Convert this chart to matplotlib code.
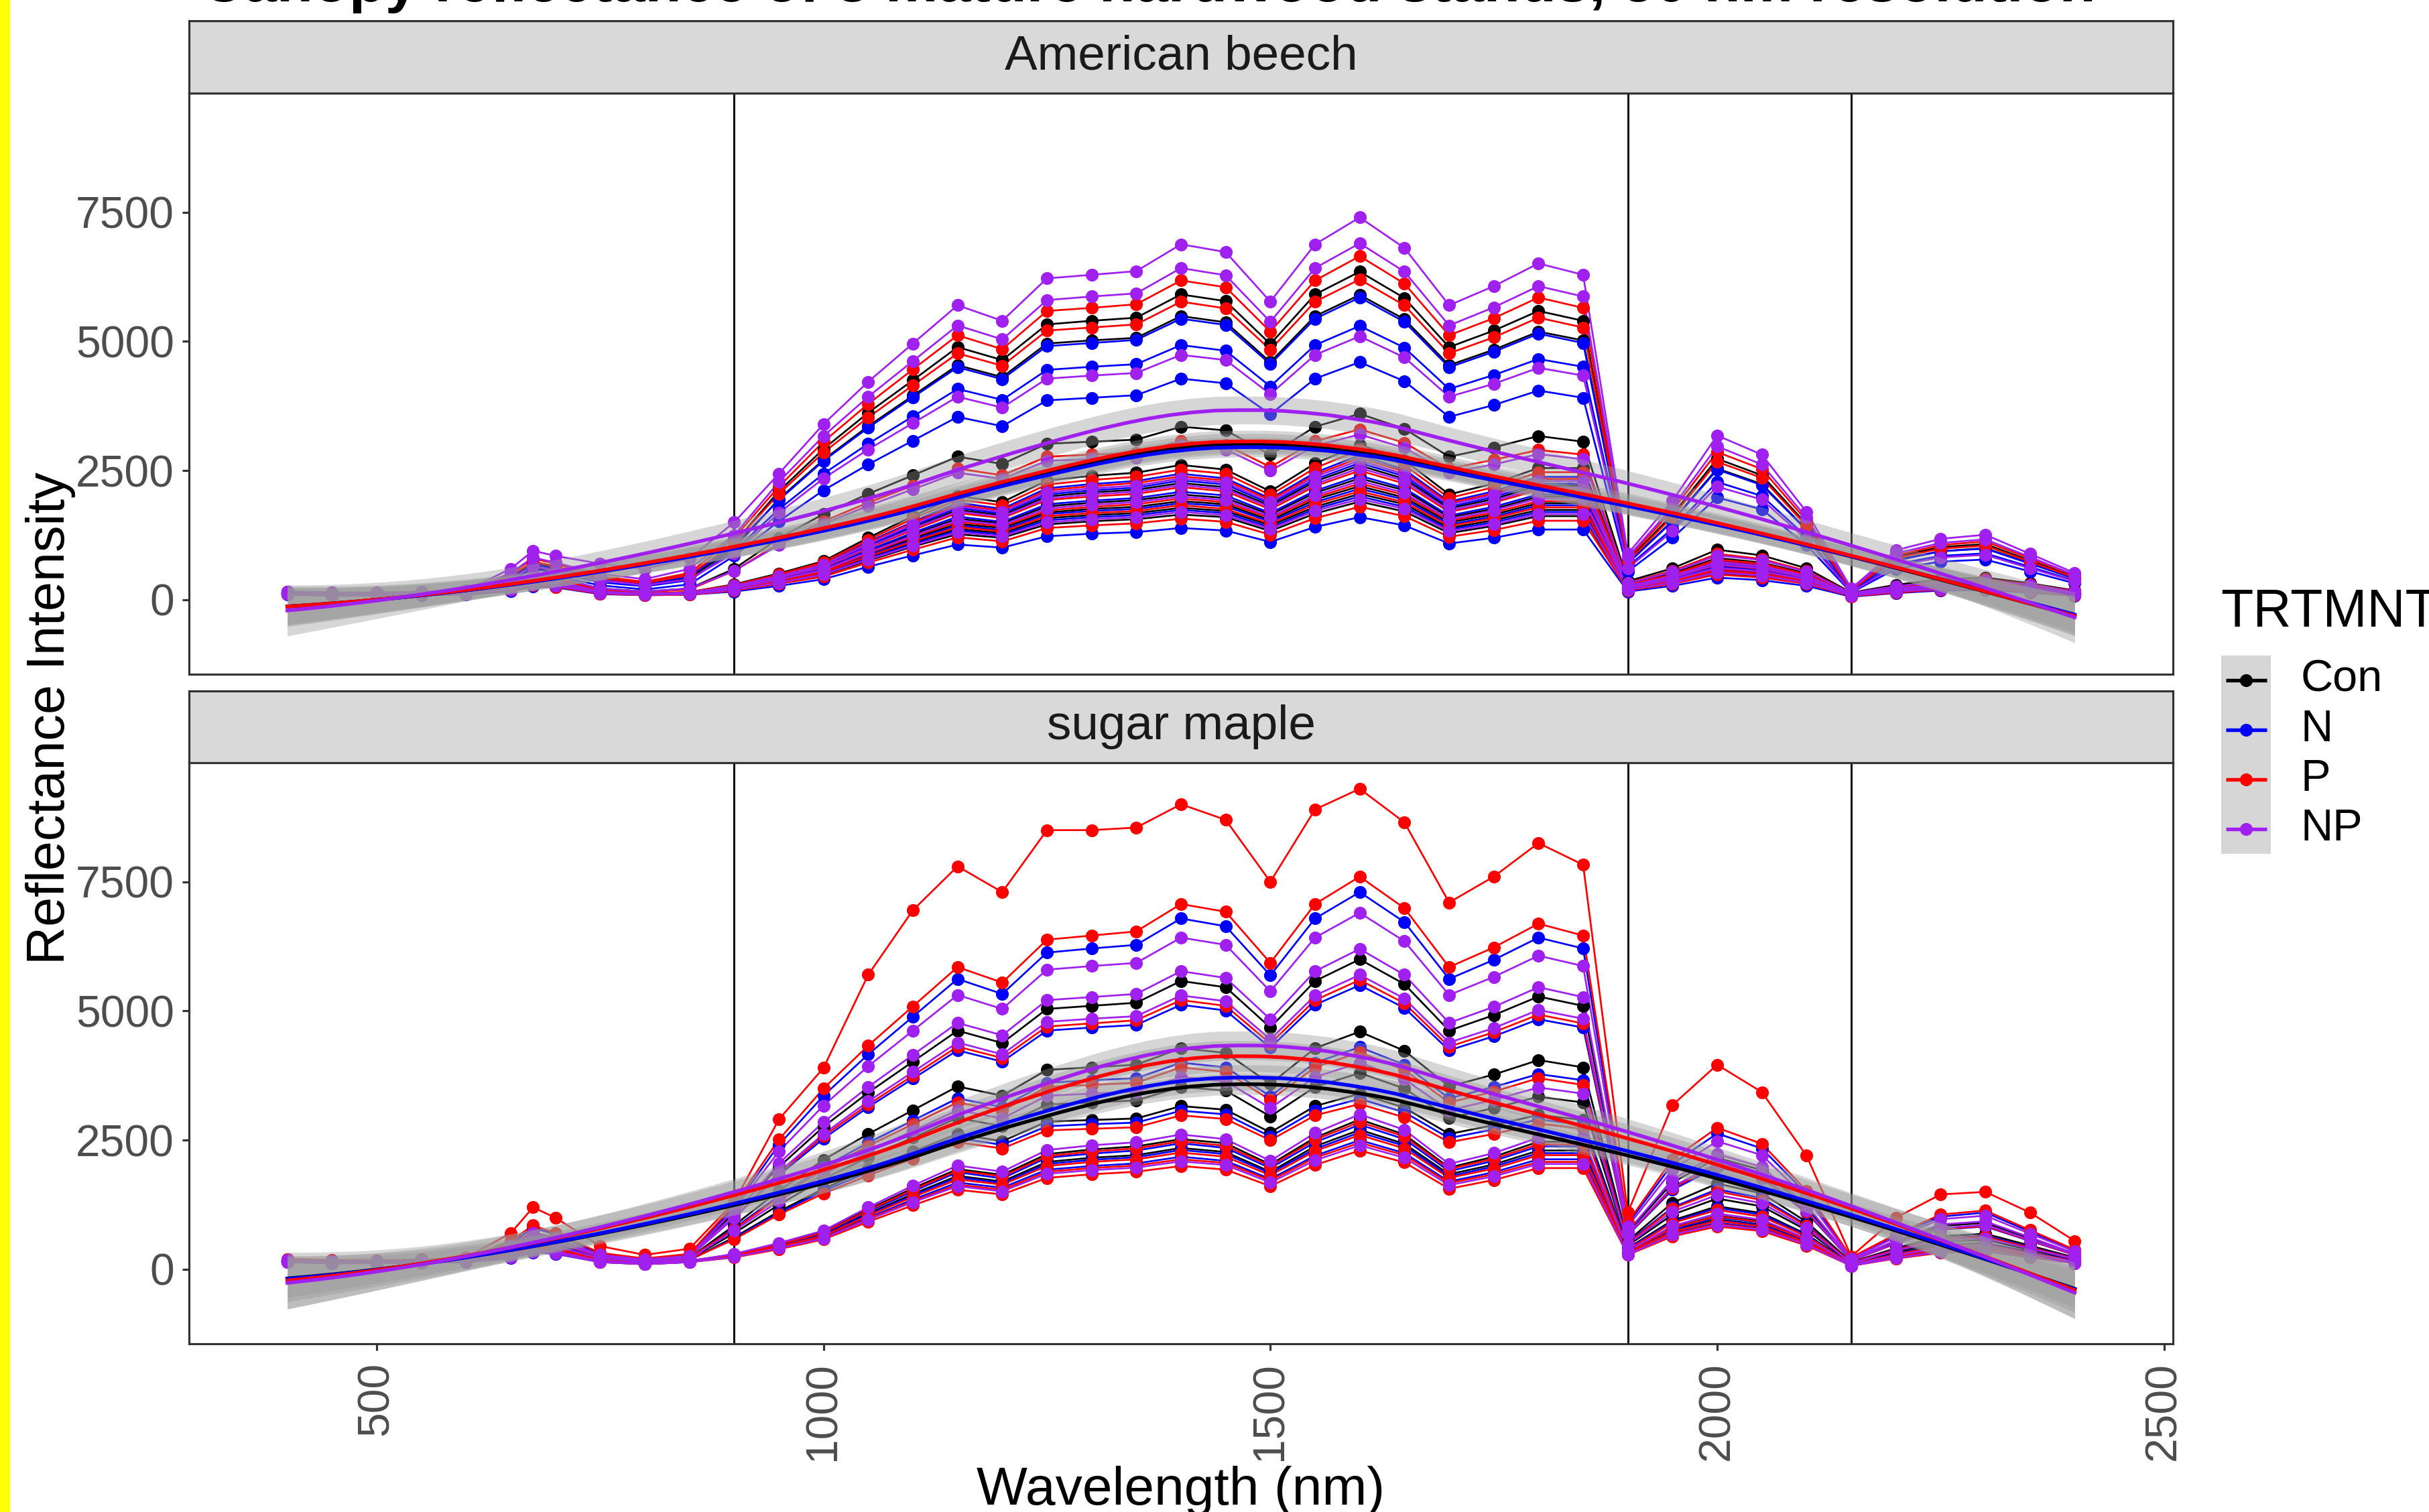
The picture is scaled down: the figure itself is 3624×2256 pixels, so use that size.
import numpy as np
import matplotlib
matplotlib.use('Agg')
import matplotlib.pyplot as plt
from matplotlib.patches import Rectangle

plt.rcParams['font.family'] = ['Liberation Sans', 'DejaVu Sans']

# ---------------- data ----------------
wavelength = [400, 450, 500, 550, 600, 650, 675, 700, 750, 800, 850,
              900, 950, 1000, 1050, 1100, 1150, 1200, 1250, 1300, 1350, 1400, 1450,
              1500, 1550, 1600, 1650, 1700, 1750, 1800, 1850,
              1900, 1950, 2000, 2050, 2100, 2150, 2200, 2250, 2300, 2350, 2400]

species = ['American beech', 'sugar maple']
treatments = ['Con', 'N', 'P', 'NP']
trt_colors = ['#000000', '#0000FF', '#FF0000', '#A020F0']
vline_wavelengths = [900, 1900, 2150]
y_ticks = [0, 2500, 5000, 7500]
x_ticks = [500, 1000, 1500, 2000, 2500]

beech_Con = [
    [150,130,130,140,170,450,700,620,420,330,480, 1100,2100,2920,3620,4250,4890,4640,5330,5400,5460,5910,5780,4950,5910,6350,5840,4890,5210,5590,5400, 760,1650,2730,2410,1460,190,830,1020,1080,760,440],
    [140,120,120,130,160,400,620,560,380,300,420, 1000,1950,2710,3360,3950,4540,4310,4960,5020,5070,5490,5370,4600,5490,5900,5430,4540,4840,5190,5020, 710,1530,2540,2240,1360,180,770,940,1000,710,410],
    [130,110,110,120,140,300,480,420,220,160,220, 600,1190,1660,2050,2410,2770,2630,3020,3060,3100,3350,3280,2810,3350,3600,3310,2770,2950,3170,3060, 360,610,970,860,610,140,290,400,430,320,180],
    [120,100,100,110,130,260,400,360,170,120,150, 300,510,750,1200,1620,2010,1890,2310,2400,2460,2610,2520,2100,2640,3000,2700,2040,2250,2550,2550, 300,510,810,720,510,120,240,330,360,270,150],
    [130,110,110,120,130,240,360,330,150,110,140, 260,440,650,1040,1400,1740,1640,2000,2080,2130,2260,2180,1820,2290,2600,2340,1770,1950,2210,2210, 260,440,700,620,440,100,210,290,310,230,130],
    [120,100,100,110,120,230,340,310,150,110,130, 235,400,590,940,1270,1570,1480,1810,1880,1930,2040,1970,1650,2070,2350,2120,1600,1760,2000,2000, 235,400,630,560,400,90,190,260,280,210,120],
    [110,90,90,100,120,210,320,290,140,100,120, 220,370,550,880,1190,1470,1390,1690,1760,1800,1910,1850,1540,1940,2200,1980,1500,1650,1870,1870, 220,370,590,530,370,90,180,240,260,200,110],
    [110,90,90,100,110,200,310,280,130,100,110, 205,350,510,820,1110,1370,1290,1580,1640,1680,1780,1720,1440,1800,2050,1850,1390,1540,1740,1740, 205,350,550,490,350,80,160,230,250,180,100],
    [120,100,100,110,120,200,300,270,130,100,110, 190,320,480,760,1030,1270,1200,1460,1520,1560,1650,1600,1330,1670,1900,1710,1290,1430,1620,1620, 190,320,510,460,320,80,150,210,230,170,100],
]
beech_N = [
    [150,130,130,140,170,420,680,600,400,300,450, 1050,1930,2690,3330,3920,4500,4270,4910,4970,5030,5440,5320,4560,5440,5850,5380,4500,4800,5150,4970, 700,1520,2520,2220,1350,180,760,940,990,700,410],
    [140,120,120,130,150,380,600,520,340,260,380, 950,1750,2440,3020,3550,4080,3870,4450,4510,4560,4930,4820,4130,4930,5300,4880,4080,4350,4660,4510, 640,1380,2280,2010,1220,160,690,850,900,640,370],
    [130,110,110,120,140,330,520,460,280,200,300, 850,1520,2120,2620,3080,3540,3360,3860,3910,3960,4280,4190,3590,4280,4600,4230,3540,3770,4050,3910, 550,1200,1980,1750,1060,140,600,740,780,550,320],
    [120,100,100,110,130,250,380,350,160,120,140, 280,480,700,1120,1510,1880,1760,2160,2240,2300,2440,2350,1960,2460,2800,2520,1900,2100,2380,2380, 280,480,760,670,480,110,220,310,340,250,140],
    [120,100,100,110,130,240,360,330,150,110,130, 265,450,660,1060,1430,1780,1670,2040,2120,2170,2310,2230,1860,2330,2650,2390,1800,1990,2250,2250, 265,450,720,640,450,110,210,290,320,240,130],
    [110,90,90,100,120,220,340,300,140,100,120, 240,410,600,960,1300,1610,1510,1850,1920,1970,2090,2020,1680,2110,2400,2160,1630,1800,2040,2040, 240,410,650,580,410,100,190,260,290,220,120],
    [110,90,90,100,120,210,320,290,140,100,120, 215,370,540,860,1160,1440,1350,1660,1720,1760,1870,1810,1510,1890,2150,1940,1460,1610,1830,1830, 215,370,580,520,370,90,170,240,260,190,110],
    [120,100,100,110,120,200,310,280,130,100,110, 200,340,500,800,1080,1340,1260,1540,1600,1640,1740,1680,1400,1760,2000,1800,1360,1500,1700,1700, 200,340,540,480,340,80,160,220,240,180,100],
    [100,80,80,90,100,170,260,240,110,90,100, 160,270,400,640,860,1070,1010,1230,1280,1310,1390,1340,1120,1410,1600,1440,1090,1200,1360,1360, 160,270,430,380,270,60,130,180,190,140,80],
]
beech_P = [
    [160,140,140,150,180,500,800,700,450,350,520, 1200,2190,3060,3790,4460,5120,4850,5590,5650,5720,6180,6050,5190,6180,6650,6120,5120,5450,5850,5650, 800,1730,2860,2530,1530,200,860,1060,1130,800,470],
    [150,130,130,140,170,460,740,650,420,320,480, 1100,2050,2850,3530,4150,4770,4530,5210,5270,5330,5770,5640,4840,5770,6200,5700,4770,5080,5460,5270, 740,1610,2670,2360,1430,190,810,990,1050,740,430],
    [130,110,110,120,140,290,460,400,200,150,200, 560,1090,1520,1880,2210,2540,2410,2770,2810,2840,3070,3000,2570,3070,3300,3040,2540,2710,2900,2810, 330,560,890,790,560,130,260,360,400,300,170],
    [120,100,100,110,130,270,420,370,170,120,150, 290,490,730,1160,1570,1940,1830,2230,2320,2380,2520,2440,2030,2550,2900,2610,1970,2180,2470,2470, 290,490,780,700,490,120,230,320,350,260,150],
    [120,100,100,110,130,260,390,350,160,120,140, 275,470,690,1100,1490,1840,1730,2120,2200,2260,2390,2310,1930,2420,2750,2480,1870,2060,2340,2340, 275,470,740,660,470,110,220,300,330,250,140],
    [130,110,110,120,130,240,350,320,150,110,130, 250,430,630,1000,1350,1680,1580,1930,2000,2050,2180,2100,1750,2200,2500,2250,1700,1880,2130,2130, 250,430,680,600,430,100,200,280,300,230,130],
    [120,100,100,110,120,220,330,300,140,100,120, 225,380,560,900,1220,1510,1420,1730,1800,1850,1960,1890,1580,1980,2250,2030,1530,1690,1910,1910, 225,380,610,540,380,90,180,250,270,200,110],
    [110,90,90,100,110,200,300,270,130,100,110, 210,360,530,840,1130,1410,1320,1620,1680,1720,1830,1760,1470,1850,2100,1890,1430,1580,1790,1790, 210,360,570,500,360,80,170,230,250,190,110],
    [110,90,90,100,110,190,280,250,120,90,100, 180,310,450,720,970,1210,1130,1390,1440,1480,1570,1510,1260,1580,1800,1620,1220,1350,1530,1530, 180,310,490,430,310,70,140,200,220,160,90],
]
beech_NP = [
    [160,140,140,150,180,600,950,850,700,600,800, 1500,2440,3400,4220,4960,5700,5400,6220,6290,6360,6880,6730,5770,6880,7400,6810,5700,6070,6510,6290, 890,1920,3180,2810,1700,220,960,1180,1260,890,520],
    [150,130,130,140,170,520,820,720,500,400,600, 1250,2280,3170,3930,4620,5310,5040,5800,5870,5930,6420,6280,5380,6420,6900,6350,5310,5660,6070,5870, 830,1790,2970,2620,1590,210,900,1100,1170,830,480],
    [140,120,120,130,160,400,650,560,380,280,400, 900,1680,2350,2910,3420,3930,3720,4280,4340,4390,4740,4640,3980,4740,5100,4690,3930,4180,4490,4340, 610,1330,2190,1940,1170,150,660,820,870,610,360],
    [130,110,110,120,140,300,500,440,220,160,220, 560,1060,1470,1820,2140,2460,2340,2690,2720,2750,2980,2910,2500,2980,3200,2940,2460,2620,2820,2720, 320,540,860,770,540,130,260,350,380,290,160],
    [120,100,100,110,130,260,400,360,160,120,140, 270,460,680,1080,1460,1810,1700,2080,2160,2210,2350,2270,1890,2380,2700,2430,1840,2030,2300,2300, 270,460,730,650,460,110,220,300,320,240,140],
    [120,100,100,110,130,250,380,340,150,110,130, 255,430,640,1020,1380,1710,1610,1960,2040,2090,2220,2140,1790,2240,2550,2300,1730,1910,2170,2170, 255,430,690,610,430,100,200,280,310,230,130],
    [110,90,90,100,120,220,330,300,140,100,120, 230,390,580,920,1240,1540,1450,1770,1840,1890,2000,1930,1610,2020,2300,2070,1560,1730,1960,1960, 230,390,620,550,390,90,180,250,280,210,120],
    [110,90,90,100,110,200,300,270,130,100,110, 195,330,490,780,1050,1310,1230,1500,1560,1600,1700,1640,1370,1720,1950,1760,1330,1460,1660,1660, 195,330,530,470,330,80,160,210,230,180,100],
]

maple_Con = [
    [180,160,160,170,200,450,720,600,280,190,260, 1100,1980,2760,3420,4020,4620,4380,5040,5100,5160,5580,5460,4680,5580,6000,5520,4620,4920,5280,5100, 720,1680,2160,1920,1200,180,540,840,900,600,300],
    [170,150,150,160,180,380,580,500,230,160,220, 850,1520,2120,2620,3080,3540,3360,3860,3910,3960,4280,4190,3590,4280,4600,4230,3540,3770,4050,3910, 550,1290,1660,1470,920,140,410,640,690,460,230],
    [160,140,140,150,170,330,500,430,200,140,200, 700,1250,1750,2170,2550,2930,2770,3190,3230,3270,3530,3460,2960,3530,3800,3500,2930,3120,3340,3230, 460,1060,1370,1220,760,110,340,530,570,380,190],
    [160,140,140,150,160,300,450,400,180,130,180, 620,1120,1560,1940,2280,2620,2480,2860,2890,2920,3160,3090,2650,3160,3400,3130,2620,2790,2990,2890, 410,950,1220,1090,680,100,310,480,510,340,170],
    [150,130,130,140,150,260,380,340,160,120,160, 290,490,730,1160,1570,1940,1830,2230,2320,2380,2520,2440,2030,2550,2900,2610,1970,2180,2470,2470, 350,810,1040,930,580,90,260,410,440,290,150],
    [150,130,130,140,150,240,350,320,150,110,150, 270,460,680,1080,1460,1810,1700,2080,2160,2210,2350,2270,1890,2380,2700,2430,1840,2030,2300,2300, 320,760,970,860,540,80,240,380,410,270,140],
]
maple_N = [
    [190,170,160,180,210,500,800,680,300,200,280, 1200,2410,3360,4160,4890,5620,5330,6130,6210,6280,6790,6640,5690,6790,7300,6720,5620,5990,6420,6210, 880,2040,2630,2340,1460,220,660,1020,1100,730,370],
    [180,160,160,170,190,420,650,560,260,180,250, 1000,1820,2530,3140,3690,4240,4020,4620,4680,4730,5120,5010,4290,5120,5500,5060,4240,4510,4840,4680, 660,1540,1980,1760,1100,170,500,770,830,550,280],
    [170,150,150,160,180,360,540,470,220,150,210, 800,1420,1980,2450,2880,3310,3140,3610,3660,3700,4000,3910,3350,4000,4300,3960,3310,3530,3780,3660, 520,1200,1550,1380,860,130,390,600,650,430,220],
    [160,140,140,150,160,300,440,390,180,130,180, 600,1090,1520,1880,2210,2540,2410,2770,2810,2840,3070,3000,2570,3070,3300,3040,2540,2710,2900,2810, 400,920,1190,1060,660,100,300,460,500,330,170],
    [150,130,130,140,150,250,370,330,150,110,150, 280,480,700,1120,1510,1880,1760,2160,2240,2300,2440,2350,1960,2460,2800,2520,1900,2100,2380,2380, 340,780,1010,900,560,80,250,390,420,280,140],
    [150,130,130,140,150,240,350,310,150,110,150, 265,450,660,1060,1430,1780,1670,2040,2120,2170,2310,2230,1860,2330,2650,2390,1800,1990,2250,2250, 320,740,950,850,530,80,240,370,400,270,130],
    [140,120,120,130,140,220,330,300,140,100,140, 250,430,630,1000,1350,1680,1580,1930,2000,2050,2180,2100,1750,2200,2500,2250,1700,1880,2130,2130, 300,700,900,800,500,80,230,350,380,250,130],
]
maple_P = [
    [200,180,170,190,230,700,1200,1000,450,280,400, 1300,2900,3900,5700,6950,7800,7300,8500,8500,8550,9000,8700,7500,8900,9300,8650,7100,7600,8250,7830, 1100,3180,3960,3430,2200,250,1000,1450,1500,1100,550],
    [190,170,170,180,210,550,850,700,320,210,300, 1250,2510,3500,4330,5090,5850,5550,6380,6460,6540,7070,6920,5930,7070,7600,6990,5850,6230,6690,6460, 910,2130,2740,2430,1520,230,680,1060,1140,760,380],
    [180,160,160,170,200,480,720,600,280,190,260, 1000,1850,2580,3190,3750,4310,4090,4700,4760,4820,5210,5100,4370,5210,5600,5150,4310,4590,4930,4760, 670,1570,2020,1790,1120,170,500,780,840,560,280],
    [170,150,150,160,190,400,600,520,240,160,220, 780,1390,1930,2390,2810,3230,3070,3530,3570,3610,3910,3820,3280,3910,4200,3860,3230,3440,3700,3570, 500,1180,1510,1340,840,130,380,590,630,420,210],
    [160,140,140,150,170,330,500,440,200,140,190, 580,1060,1470,1820,2140,2460,2340,2690,2720,2750,2980,2910,2500,2980,3200,2940,2460,2620,2820,2720, 380,900,1150,1020,640,100,290,450,480,320,160],
    [160,140,140,150,170,300,450,400,180,130,170, 285,480,710,1140,1540,1910,1800,2190,2280,2340,2480,2390,2000,2510,2850,2570,1940,2140,2420,2420, 340,800,1030,910,570,90,260,400,430,290,140],
    [150,130,130,140,160,280,420,370,160,120,160, 260,440,650,1040,1400,1740,1640,2000,2080,2130,2260,2180,1820,2290,2600,2340,1770,1950,2210,2210, 310,730,940,830,520,80,230,360,390,260,130],
    [150,130,130,140,150,260,390,340,150,110,150, 245,420,610,980,1320,1640,1540,1890,1960,2010,2130,2060,1720,2160,2450,2210,1670,1840,2080,2080, 290,690,880,780,490,70,220,340,370,250,120],
    [140,120,120,130,150,240,360,320,140,100,140, 230,390,580,920,1240,1540,1450,1770,1840,1890,2000,1930,1610,2020,2300,2070,1560,1730,1960,1960, 280,640,830,740,460,70,210,320,350,230,120],
]
maple_NP = [
    [180,160,160,170,200,460,700,600,280,190,260, 1150,2280,3170,3930,4620,5310,5040,5800,5870,5930,6420,6280,5380,6420,6900,6350,5310,5660,6070,5870, 830,1930,2480,2210,1380,210,620,970,1040,690,350],
    [180,160,160,170,190,430,660,570,270,180,250, 1050,2050,2850,3530,4150,4770,4530,5210,5270,5330,5770,5640,4840,5770,6200,5700,4770,5080,5460,5270, 740,1740,2230,1980,1240,190,560,870,930,620,310],
    [170,150,150,160,180,400,610,530,250,170,240, 1000,1880,2620,3250,3820,4390,4160,4790,4850,4900,5300,5190,4450,5300,5700,5240,4390,4670,5020,4850, 680,1600,2050,1820,1140,170,510,800,860,570,290],
    [160,140,140,150,170,340,520,450,210,150,200, 750,1320,1840,2280,2680,3080,2920,3360,3400,3440,3720,3640,3120,3720,4000,3680,3080,3280,3520,3400, 480,1120,1440,1280,800,120,360,560,600,400,200],
    [150,130,130,140,150,260,390,350,160,120,160, 300,510,750,1200,1620,2010,1890,2310,2400,2460,2610,2520,2100,2640,3000,2700,2040,2250,2550,2550, 360,840,1080,960,600,90,270,420,450,300,150],
    [140,120,120,130,140,230,340,310,140,100,140, 240,410,600,960,1300,1610,1510,1850,1920,1970,2090,2020,1680,2110,2400,2160,1630,1800,2040,2040, 290,670,860,770,480,70,220,340,360,240,120],
]

panel_data = [
    [beech_Con, beech_N, beech_P, beech_NP],
    [maple_Con, maple_N, maple_P, maple_NP],
]

# ---------------- loess smoother (like geom_smooth) ----------------
def loess_fit(x, y, xg, span=0.75):
    x = np.asarray(x, float)
    y = np.asarray(y, float)
    n = len(x)
    q = int(np.floor(span * n))

    def row(x0):
        d = np.abs(x - x0)
        h = np.sort(d)[q - 1]
        u = d / h
        w = np.where(u < 1, (1 - u ** 3) ** 3, 0.0)
        z = (x - x0) / h
        X = np.column_stack([np.ones(n), z, z ** 2])
        XtW = X.T * w
        A = XtW @ X
        return np.linalg.solve(A, XtW)[0]

    ux = np.unique(x)
    rows = {v: row(v) for v in ux}
    fitted = np.array([rows[v] @ y for v in x])
    trace = sum(rows[x[i]][i] for i in range(n))
    rss = np.sum((y - fitted) ** 2)
    sigma = np.sqrt(rss / (n - trace))
    fit, se = [], []
    for x0 in xg:
        L = row(x0)
        fit.append(L @ y)
        se.append(sigma * np.sqrt(np.sum(L ** 2)))
    return np.array(fit), np.array(se)

# ---------------- figure ----------------
W, H, DPI = 3624, 2256, 300
fig = plt.figure(figsize=(W / DPI, H / DPI), dpi=DPI)
fig.patch.set_facecolor('white')


def px_axes(l, t, r, b):
    return fig.add_axes([l / W, 1 - b / H, (r - l) / W, (b - t) / H])

PL, PR = 282, 3242
panel_boxes = [(139, 1006, 31), (1138, 2005, 1031)]
border = '#333333'

for pi, (top, bot, stop) in enumerate(panel_boxes):
    ax = px_axes(PL, top, PR, bot)
    ax.set_facecolor('white')
    for sp in ax.spines.values():
        sp.set_color(border)
        sp.set_linewidth(0.75)
    for v in vline_wavelengths:
        ax.axvline(v, color='black', lw=0.7, zorder=1)
    groups = panel_data[pi]
    for ti, lines in enumerate(groups):
        for ln in lines:
            ax.plot(wavelength, ln, color=trt_colors[ti], lw=0.65, zorder=2)
    for ti, lines in enumerate(groups):
        for ln in lines:
            ax.plot(wavelength, ln, ls='none', marker='o', ms=4.6, mew=0,
                    color=trt_colors[ti], zorder=3)
    xg = np.linspace(min(wavelength), max(wavelength), 80)
    for ti, lines in enumerate(groups):
        xs = np.tile(wavelength, len(lines))
        ys = np.concatenate([np.asarray(l, float) for l in lines])
        fit, se = loess_fit(xs, ys, xg)
        ax.fill_between(xg, fit - 1.96 * se, fit + 1.96 * se, color='#999999',
                        alpha=0.4, lw=0, zorder=4)
        ax.plot(xg, fit, color=trt_colors[ti], lw=1.3, zorder=5)
    ax.set_xlim(290, 2510)
    ax.set_ylim(-1440, 9805)
    ax.set_yticks(y_ticks)
    ax.set_yticklabels([str(t) for t in y_ticks])
    ax.set_xticks(x_ticks)
    ax.tick_params(axis='both', direction='out', length=2.5, width=0.75,
                   color=border, labelsize=15.8, labelcolor='#4D4D4D', pad=2.8)
    if pi == 0:
        ax.tick_params(axis='x', bottom=False, labelbottom=False)
    else:
        ax.set_xticklabels([str(t) for t in x_ticks], rotation=90,
                           va='top', ha='center')
        ax.tick_params(axis='x', pad=4)
    # strip
    sax = px_axes(PL, stop, PR, top)
    sax.set_facecolor('#D9D9D9')
    sax.set_xticks([])
    sax.set_yticks([])
    for sp in sax.spines.values():
        sp.set_color(border)
        sp.set_linewidth(0.75)
    sax.text(0.5, 0.5, species[pi], transform=sax.transAxes, ha='center',
             va='center', fontsize=17.5, color='#1A1A1A')

# overlay for texts & legend
ov = fig.add_axes([0, 0, 1, 1], zorder=10)
ov.set_xlim(0, W)
ov.set_ylim(H, 0)
ov.axis('off')

ov.add_patch(Rectangle((0, 0), 15, H, color='#FFFF00', lw=0))
ov.text(300, 2, 'Canopy reflectance of 3 mature hardwood stands, 50 nm resolution',
        ha='left', va='baseline', fontsize=21.2, fontweight='bold', color='black')
ov.text(76, 1072, 'Reflectance Intensity', rotation=90, ha='center', va='center',
        fontsize=19, color='black')
ov.text(1762, 2245, 'Wavelength (nm)', ha='center', va='baseline', fontsize=19.3,
        color='black')

# legend
ov.text(3313, 935, 'TRTMNT', ha='left', va='baseline', fontsize=19, color='black')
key_top, key_h = 978, 74
for ti, name in enumerate(treatments):
    y0 = key_top + ti * key_h
    ov.add_patch(Rectangle((3314, y0), 74, key_h, color='#D6D6D6', lw=0))
    cy = y0 + key_h / 2
    ov.plot([3321, 3382], [cy, cy], color=trt_colors[ti], lw=1.3,
            solid_capstyle='butt')
    ov.plot([3351], [cy], marker='o', ms=4.6, mew=0, color=trt_colors[ti])
    ov.text(3433, cy, name, ha='left', va='center', fontsize=16, color='black')

fig.savefig('out.png', dpi=DPI)
